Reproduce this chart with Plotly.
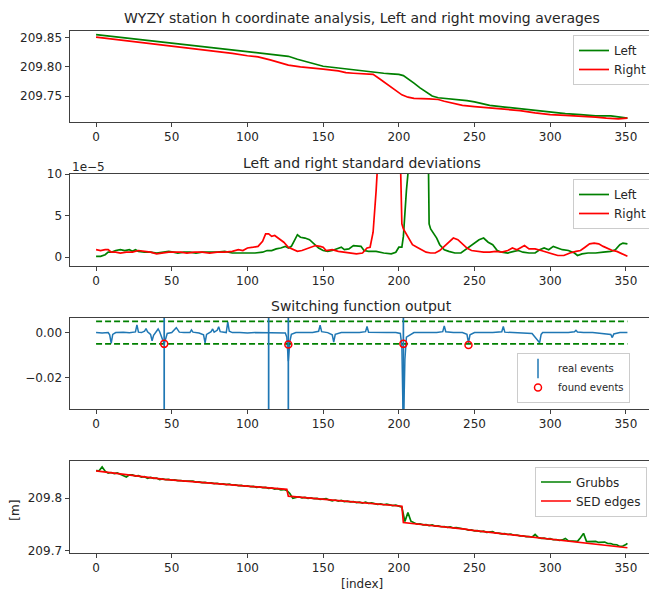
import plotly.graph_objects as go

# ---------------- data ----------------
# Panel 1: left / right moving averages [m]
ma_left_x = [0, 10, 20, 30, 40, 50, 60, 70, 80, 90, 100, 110, 120, 127, 133, 140, 147, 150, 160, 170, 180,
             190, 195, 200, 203, 206, 210, 214, 218, 222, 226, 230, 235, 240, 245, 250, 255, 260, 270, 280,
             290, 300, 310, 320, 330, 340, 345, 351]
ma_left = [209.855, 209.852, 209.849, 209.846, 209.843, 209.840, 209.837, 209.834, 209.831, 209.828,
           209.825, 209.822, 209.820, 209.818, 209.813, 209.808, 209.802, 209.801, 209.798, 209.795,
           209.791, 209.789, 209.788, 209.787, 209.785, 209.780, 209.772, 209.764, 209.757, 209.750,
           209.747, 209.746, 209.745, 209.744, 209.742, 209.740, 209.737, 209.734, 209.731, 209.728,
           209.725, 209.723, 209.720, 209.718, 209.716, 209.716, 209.714, 209.712]
ma_right_x = [0, 10, 20, 30, 40, 50, 60, 70, 80, 90, 100, 107, 115, 120, 127, 135, 140, 150, 160, 165, 170,
              180, 183, 187, 192, 197, 202, 206, 210, 220, 226, 230, 236, 242, 250, 260, 270, 280, 290, 300,
              310, 320, 330, 337, 345, 351]
ma_right = [209.851, 209.848, 209.845, 209.841, 209.838, 209.835, 209.832, 209.829, 209.826, 209.823,
            209.819, 209.817, 209.812, 209.808, 209.803, 209.800, 209.799, 209.796, 209.793, 209.790,
            209.789, 209.788, 209.787, 209.780, 209.771, 209.762, 209.752, 209.748, 209.746, 209.745,
            209.744, 209.741, 209.737, 209.734, 209.732, 209.730, 209.728, 209.725, 209.721, 209.718,
            209.717, 209.716, 209.714, 209.712, 209.711, 209.712]

# Panel 2: left / right standard deviations (values in units of 1e-5 m)
sd_left_x = [0, 3, 6, 8, 10, 13, 16, 19, 22, 24, 26, 28, 32, 36, 40, 44, 48, 51, 54, 58, 62, 66, 70, 75, 80,
             85, 90, 95, 100, 105, 110, 113, 116, 119, 122, 125, 127, 129, 131, 133, 135, 138, 141, 144,
             147, 150, 153, 156, 159, 162, 164, 167, 170, 173, 175, 177, 180, 185, 190, 195, 198, 200, 202,
             203, 205, 207, 210, 215, 219, 220, 221, 223, 225, 227, 230, 233, 237, 241, 244, 247, 250, 253,
             256, 259, 262, 265, 268, 272, 276, 279, 282, 286, 290, 293, 296, 299, 302, 305, 308, 312,
             316, 318, 321, 325, 330, 335, 340, 343, 346, 348, 351]
sd_left = [0.1, 0.1, 0.3, 0.6, 0.6, 0.8, 0.9, 0.8, 0.9, 0.7, 0.9, 0.7, 0.6, 0.6, 0.5, 0.6, 0.7, 0.6, 0.5,
           0.6, 0.6, 0.5, 0.6, 0.6, 0.6, 0.7, 0.5, 0.5, 0.5, 0.5, 0.6, 0.8, 0.8, 1.0, 1.1, 1.3, 1.1, 1.3,
           2.0, 2.7, 2.4, 2.3, 2.1, 1.6, 1.1, 0.8, 0.7, 0.8, 1.0, 1.2, 0.9, 1.0, 1.4, 1.3, 1.3, 0.8, 0.7,
           0.7, 0.5, 0.4, 0.6, 1.2, 1.2, 2.5, 8.0, 12.0, 30.0, 40.0, 20.0, 4.0, 3.4, 2.8, 2.3, 1.5, 0.9,
           0.7, 0.5, 0.5, 0.9, 1.3, 1.7, 2.1, 2.3, 1.8, 1.5, 0.8, 0.6, 0.5, 0.7, 0.8, 0.6, 0.5, 0.5, 0.9,
           1.1, 0.9, 1.3, 1.1, 0.9, 0.8, 0.5, 0.2, 0.4, 0.5, 0.5, 0.6, 0.7, 0.9, 1.5, 1.7, 1.6]
sd_right_x = [0, 3, 6, 8, 10, 13, 16, 20, 24, 28, 32, 36, 40, 44, 48, 52, 56, 60, 65, 70, 75, 80, 85, 90, 94,
              97, 100, 104, 107, 110, 112, 114, 116, 118, 121, 124, 127, 130, 133, 136, 139, 142, 145, 148,
              150, 152, 156, 160, 164, 168, 172, 176, 179, 181, 183, 185, 187, 190, 195, 200, 201, 202, 203,
              205, 207, 209, 212, 215, 218, 221, 224, 227, 230, 233, 236, 239, 242, 245, 248, 252, 256, 260,
              264, 268, 272, 275, 278, 281, 283, 286, 290, 294, 298, 302, 305, 309, 313, 317, 320, 323, 326,
              329, 332, 335, 338, 341, 344, 347, 351]
sd_right = [0.9, 0.8, 0.9, 0.9, 0.6, 0.6, 0.5, 0.6, 0.6, 0.8, 0.7, 0.6, 0.4, 0.5, 0.6, 0.6, 0.6, 0.5, 0.6,
            0.6, 0.5, 0.6, 0.6, 0.7, 0.9, 0.8, 1.1, 1.2, 1.3, 1.9, 2.8, 2.8, 2.5, 2.6, 2.2, 1.8, 1.2, 0.9,
            0.7, 0.8, 1.0, 1.2, 1.4, 1.3, 1.2, 0.8, 0.9, 0.7, 0.6, 0.5, 0.4, 0.5, 1.1, 1.2, 3.0, 8.0, 12.0,
            30.0, 40.0, 20.0, 12.0, 4.0, 3.4, 2.8, 2.2, 1.5, 1.2, 0.9, 0.6, 0.5, 0.5, 0.8, 1.3, 1.8, 2.3,
            2.1, 1.6, 1.1, 0.8, 0.7, 0.6, 0.6, 0.7, 0.6, 0.8, 1.1, 0.9, 1.2, 1.4, 1.0, 1.0, 0.8, 0.6, 0.4,
            0.2, 0.2, 0.5, 0.7, 0.8, 1.2, 1.6, 1.7, 1.6, 1.3, 1.0, 0.8, 0.7, 0.4, 0.1]

# Panel 3: switching function output
sw_x = [0, 4, 8, 9, 10, 11, 13, 18, 22, 26, 27, 28, 30, 32, 33, 34, 36, 37, 38, 40, 41, 42, 44, 45, 47, 50,
        53, 54, 55, 58, 62, 63, 64, 68, 71, 72, 73, 76, 77, 78, 80, 81, 82, 86, 87, 88, 90, 95, 100, 105,
        110, 113, 114, 115, 118, 122, 125, 126, 127, 128, 129, 132, 138, 143, 147, 148, 149, 153, 156, 157,
        158, 162, 168, 174, 178, 179, 180, 185, 192, 198, 201, 202, 203, 204, 205, 210, 218, 225, 229, 230,
        231, 236, 242, 245, 246, 247, 250, 256, 262, 268, 269, 270, 276, 283, 288, 293, 294, 295, 300, 306,
        312, 316, 317, 318, 322, 328, 334, 340, 341, 342, 346, 351]
sw = [0.0, -0.0002, 0.0, -0.0010, -0.0048, -0.0008, 0.0, 0.0002, -0.0001, 0.0003, 0.0034, 0.0002, 0.0,
      0.0006, 0.0018, 0.0004, -0.0008, -0.0036, -0.0012, 0.0005, 0.0016, 0.0004, -0.0030, -0.0050, -0.0004,
      0.0, 0.0022, 0.0010, 0.0002, 0.0, 0.0, 0.0012, 0.0002, -0.0002, -0.0010, -0.0046, -0.0008, 0.0004,
      0.0016, 0.0002, 0.0010, 0.0026, 0.0004, 0.0, 0.0048, 0.0006, 0.0, 0.0, -0.0002, 0.0, 0.0, -0.0001,
      -0.0003, 0.0, -0.0001, 0.0, -0.0002, -0.0020, -0.0127, -0.0040, -0.0008, 0.0, 0.0, 0.0, 0.0006,
      0.0033, 0.0004, 0.0, -0.0010, -0.0042, -0.0008, 0.0, 0.0, 0.0, 0.0004, 0.0027, 0.0002, 0.0, 0.0,
      0.0, -0.0004, -0.0060, -0.0450, -0.0120, -0.0020, 0.0, 0.0, 0.0, 0.0004, 0.0030, 0.0004, 0.0, 0.0,
      -0.0008, -0.0046, -0.0010, 0.0, 0.0, 0.0, 0.0004, 0.0027, 0.0002, 0.0, 0.0, -0.0004, -0.0045, -0.0008,
      0.0, 0.0, 0.0, 0.0, 0.0004, 0.0010, 0.0003, 0.0, 0.0, -0.0004, -0.0008, -0.0022, -0.0006, 0.0, 0.0]
threshold = 0.005
real_events = [45, 114, 127, 203]
found_x = [45, 127, 203, 246]
found_y = [-0.0050, -0.0053, -0.0050, -0.0055]

# Panel 4: Grubbs-filtered series and SED edges [m]
grubbs_x = list(range(0, 352, 2)) + [351]
grubbs = [209.8525, 209.8523, 209.8596, 209.8514, 209.8477, 209.8489, 209.8467, 209.8480, 209.8458,
          209.8431, 209.8404, 209.8447, 209.8445, 209.8422, 209.8430, 209.8403, 209.8411, 209.8379,
          209.8397, 209.8380, 209.8383, 209.8355, 209.8368, 209.8353, 209.8358, 209.8343, 209.8349,
          209.8336, 209.8338, 209.8325, 209.8328, 209.8317, 209.8324, 209.8306, 209.8310, 209.8296,
          209.8303, 209.8290, 209.8293, 209.8279, 209.8285, 209.8269, 209.8273, 209.8259, 209.8270,
          209.8252, 209.8257, 209.8241, 209.8246, 209.8229, 209.8237, 209.8222, 209.8226, 209.8208,
          209.8218, 209.8201, 209.8207, 209.8188, 209.8197, 209.8175, 209.8181, 209.8161, 209.8166,
          209.8147, 209.8088, 209.7998, 209.8013, 209.8028, 209.8008, 209.8018, 209.8000, 209.8007,
          209.7992, 209.7998, 209.7980, 209.7986, 209.7993, 209.7968, 209.7953, 209.7967, 209.7948,
          209.7958, 209.7936, 209.7947, 209.7932, 209.7938, 209.7918, 209.7926, 209.7910, 209.7928,
          209.7903, 209.7911, 209.7895, 209.7885, 209.7893, 209.7877, 209.7888, 209.7868, 209.7860,
          209.7868, 209.7848, 209.7833, 209.7557, 209.7731, 209.7565, 209.7529, 209.7508, 209.7515,
          209.7495, 209.7500, 209.7481, 209.7495, 209.7472, 209.7475, 209.7459, 209.7464, 209.7449,
          209.7455, 209.7436, 209.7441, 209.7431, 209.7433, 209.7411, 209.7396, 209.7399, 209.7379,
          209.7385, 209.7368, 209.7374, 209.7353, 209.7360, 209.7366, 209.7337, 209.7339, 209.7323,
          209.7327, 209.7312, 209.7321, 209.7298, 209.7302, 209.7286, 209.7288, 209.7271, 209.7274,
          209.7261, 209.7312, 209.7256, 209.7238, 209.7243, 209.7227, 209.7233, 209.7212, 209.7217,
          209.7202, 209.7209, 209.7237, 209.7191, 209.7187, 209.7183, 209.7181, 209.7250, 209.7333,
          209.7177, 209.7180, 209.7179, 209.7182, 209.7161, 209.7164, 209.7168, 209.7141, 209.7140,
          209.7118, 209.7117, 209.7085, 209.7094, 209.7122, 209.7145]
sed_x = [0, 45, 126, 127, 202, 203, 245, 246, 351]
sed = [209.852, 209.836, 209.817, 209.804, 209.785, 209.754, 209.741, 209.740, 209.706]

x_ticks = [0, 50, 100, 150, 200, 250, 300, 350]

# ---------------- styling ----------------
# the page body has an 8px margin, so the figure is laid out 8px up/left of the target pixels
OFF = 8
W, H = 657 - OFF, 590 - OFF
FONT = "DejaVu Sans"
TXT = "#262626"
SPINE = "#404040"
GREEN = "#008000"
RED = "#ff0000"
BLUE = "#1f77b4"
LW = 1.7


def fx(px):
    return (px - OFF) / W


def fy(py):
    return 1 - (py - OFF) / H


xl, xr = 69.5, 654.0
panels = [(30.5, 122.0), (174.0, 265.5), (317.5, 409.0), (461.0, 552.5)]

fig = go.Figure()

# panel 1
fig.add_trace(go.Scatter(x=ma_left_x, y=ma_left, mode="lines", name="Left",
                         line=dict(color=GREEN, width=LW), xaxis="x", yaxis="y", legend="legend"))
fig.add_trace(go.Scatter(x=ma_right_x, y=ma_right, mode="lines", name="Right",
                         line=dict(color=RED, width=LW), xaxis="x", yaxis="y", legend="legend"))
# panel 2
fig.add_trace(go.Scatter(x=sd_left_x, y=sd_left, mode="lines", name="Left",
                         line=dict(color=GREEN, width=LW), xaxis="x2", yaxis="y2", legend="legend2"))
fig.add_trace(go.Scatter(x=sd_right_x, y=sd_right, mode="lines", name="Right",
                         line=dict(color=RED, width=LW), xaxis="x2", yaxis="y2", legend="legend2"))
# panel 3
fig.add_trace(go.Scatter(x=sw_x, y=sw, mode="lines", showlegend=False,
                         line=dict(color=BLUE, width=1.5), xaxis="x3", yaxis="y3"))
for thr in (threshold, -threshold):
    fig.add_trace(go.Scatter(x=[sw_x[0], sw_x[-1]], y=[thr, thr], mode="lines", showlegend=False,
                             line=dict(color=GREEN, width=LW, dash="6px,3px"), xaxis="x3", yaxis="y3"))
ev_x, ev_y = [], []
for e in real_events:
    ev_x += [e, e, None]
    ev_y += [-0.05, 0.02, None]
fig.add_trace(go.Scatter(x=ev_x, y=ev_y, mode="lines", showlegend=False,
                         line=dict(color=BLUE, width=LW), xaxis="x3", yaxis="y3"))
fig.add_trace(go.Scatter(x=[None], y=[None], mode="markers", name="real events",
                         marker=dict(symbol="line-ns-open", size=14, color=BLUE,
                                     line=dict(color=BLUE, width=1.5)),
                         xaxis="x3", yaxis="y3", legend="legend3"))
fig.add_trace(go.Scatter(x=found_x, y=found_y, mode="markers", name="found events",
                         marker=dict(symbol="circle-open", size=7, color=RED,
                                     line=dict(color=RED, width=1.5)),
                         xaxis="x3", yaxis="y3", legend="legend3"))
# panel 4
fig.add_trace(go.Scatter(x=grubbs_x, y=grubbs, mode="lines", name="Grubbs",
                         line=dict(color=GREEN, width=LW), xaxis="x4", yaxis="y4", legend="legend4"))
fig.add_trace(go.Scatter(x=sed_x, y=sed, mode="lines", name="SED edges",
                         line=dict(color=RED, width=LW), xaxis="x4", yaxis="y4", legend="legend4"))

axis_common = dict(showline=True, linecolor=SPINE, linewidth=1, mirror=True, ticks="outside",
                   ticklen=4, tickwidth=1, tickcolor=SPINE, showgrid=False, zeroline=False,
                   tickfont=dict(family=FONT, size=12, color=TXT), automargin=False)

yranges = [[209.7055, 209.8622], [-1.0, 10.0], [-0.0339, 0.0067], [209.697, 209.8708]]
yticks = [([209.75, 209.80, 209.85], ["209.75", "209.80", "209.85"]),
          ([0, 5, 10], ["0", "5", "10"]),
          ([-0.02, 0.0], ["\u22120.02", "0.00"]),
          ([209.7, 209.8], ["209.7", "209.8"])]

layout = dict(width=W, height=H, margin=dict(l=0, r=0, t=0, b=0), paper_bgcolor="white",
              plot_bgcolor="white", font=dict(family=FONT, size=12, color=TXT))
for i, (top, bot) in enumerate(panels):
    sfx = "" if i == 0 else str(i + 1)
    layout["xaxis" + sfx] = dict(axis_common, domain=[fx(xl), min(1.0, fx(xr))], range=[-17.55, 368.55],
                                 tickvals=x_ticks, ticktext=[str(v) for v in x_ticks],
                                 anchor="y" + sfx)
    layout["yaxis" + sfx] = dict(axis_common, domain=[fy(bot), fy(top)], range=yranges[i],
                                 tickvals=yticks[i][0], ticktext=yticks[i][1], anchor="x" + sfx)

leg_common = dict(bgcolor="rgba(255,255,255,0.8)", bordercolor="#cccccc", borderwidth=1, itemwidth=30,
                  xanchor="right", yanchor="top", font=dict(family=FONT, size=12, color=TXT))
layout["legend"] = dict(leg_common, x=fx(652), y=fy(35))
layout["legend2"] = dict(leg_common, x=fx(652), y=fy(179))
layout["legend3"] = dict(leg_common, x=fx(630), y=fy(353), font=dict(family=FONT, size=10, color=TXT))
layout["legend4"] = dict(leg_common, x=fx(647), y=fy(466.5))

cx = fx((xl + xr) / 2)
ann = []
for text, ypx in [("WYZY station h coordinate analysis, Left and right moving averages", 18.3),
                  ("Left and right standard deviations", 162.7),
                  ("Switching function output", 305.7)]:
    ann.append(dict(text=text, x=cx, y=fy(ypx), xref="paper", yref="paper", showarrow=False,
                    xanchor="center", yanchor="middle", font=dict(family=FONT, size=14, color=TXT)))
ann.append(dict(text="1e\u22125", x=fx(70), y=fy(166.7), xref="paper", yref="paper", showarrow=False,
                xanchor="left", yanchor="middle", font=dict(family=FONT, size=12, color=TXT)))
ann.append(dict(text="[index]", x=cx, y=fy(584), xref="paper", yref="paper", showarrow=False,
                xanchor="center", yanchor="middle", font=dict(family=FONT, size=12, color=TXT)))
ann.append(dict(text="[m]", x=fx(15), y=fy(510.7), xref="paper", yref="paper", showarrow=False,
                textangle=-90, xanchor="center", yanchor="middle", font=dict(family=FONT, size=12, color=TXT)))
layout["annotations"] = ann

fig.update_layout(layout)
fig.write_html("out.html")
